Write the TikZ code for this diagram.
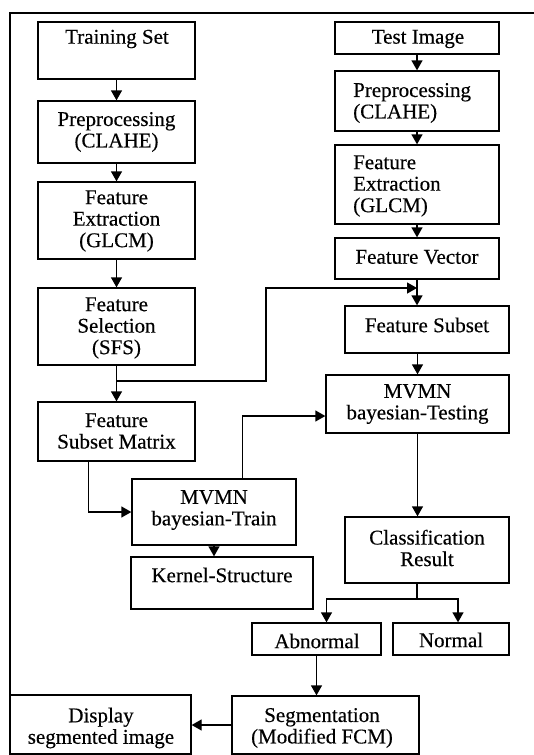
\documentclass[tikz,border=0pt]{standalone}
\usepackage{fontspec}
\setmainfont{Liberation Serif}[FakeBold=0.35]
\usetikzlibrary{arrows.meta,fit}
\tikzset{
  box/.style={draw, line width=1.3pt, inner sep=0pt},
  txt/.style={inner sep=0pt, align=center, font=\fontsize{21}{21.5}\selectfont},
  ltxt/.style={txt, anchor=west, align=left},
  conn/.style={line width=1.3pt},
  arr/.style={conn, -{Triangle[width=11pt,length=10pt]}},
  frame/.style={line width=2.2pt}
}
\begin{document}
\begin{tikzpicture}[x=1pt,y=-1pt]
\useasboundingbox (0,0) rectangle (534,755);
\draw[frame] (10,756) -- (10,13) -- (535,13);
% left column
\node[box, fit={(38,22) (195,79)}] (ts) {};
\node[box, fit={(38,101) (195,163)}] (pp1) {};
\node[box, fit={(38,182) (195,259)}] (fe1) {};
\node[box, fit={(38,288) (195,365)}] (fs) {};
\node[box, fit={(38,402) (195,461)}] (fsm) {};
\node[box, fit={(132,479) (296,545)}] (mt) {};
\node[box, fit={(131,557) (313,609)}] (kern) {};
% right column
\node[box, fit={(335,22) (499,54)}] (ti) {};
\node[box, fit={(335,71) (499,131)}] (pp2) {};
\node[box, fit={(335,145) (499,224)}] (fe2) {};
\node[box, fit={(335,238) (499,279)}] (fv) {};
\node[box, fit={(345,306) (509,353)}] (fsub) {};
\node[box, fit={(326,375) (509,433)}] (mtest) {};
\node[box, fit={(345,517) (509,583)}] (cr) {};
\node[box, fit={(252,623) (381,655)}] (ab) {};
\node[box, fit={(393,623) (509,655)}] (nm) {};
\node[box, fit={(232,696) (419,754)}] (seg) {};
\node[box, fit={(10,695) (191,754)}] (disp) {};
% texts
\node[txt] (ts-t) at (117,39) {Training Set};
\node[txt] (pp1-t) at (116.5,132) {Preprocessing\\(CLAHE)};
\node[txt] (fe1-t) at (116.5,221) {Feature\\Extraction\\(GLCM)};
\node[txt] (fs-t) at (116.5,328) {Feature\\Selection\\(SFS)};
\node[txt] (fsm-t) at (116.5,431) {Feature\\Subset Matrix};
\node[txt] (mt-t) at (214,510) {MVMN\\bayesian-Train};
\node[txt] (kern-t) at (222,575) {Kernel-Structure};
\node[txt] (ti-t) at (418,39) {Test Image};
\node[ltxt] (pp2-t) at (353,103) {Preprocessing\\(CLAHE)};
\node[ltxt] (fe2-t) at (353,186) {Feature\\Extraction\\(GLCM)};
\node[txt] (fv-t) at (417,257) {Feature Vector};
\node[txt] (fsub-t) at (427,325) {Feature Subset};
\node[txt] (mtest-t) at (417.5,404) {MVMN\\bayesian-Testing};
\node[txt] (cr-t) at (427,548) {Classification\\Result};
\node[txt] (ab-t) at (317,641) {Abnormal};
\node[txt] (nm-t) at (451,640) {Normal};
\node[txt] (seg-t) at (322,728) {Segmentation\\(Modified FCM)};
\node[txt] (disp-t) at (101,728) {Display\\segmented image};
% coordinates
\coordinate (j1) at (116.5,381);
\coordinate (b1) at (266,288);
\coordinate (j2) at (417,288);
\coordinate (s1) at ([xshift=51pt]fsm.south west);
\coordinate (s2) at ([xshift=111pt]mt.north west);
\coordinate (e2) at ([yshift=-12pt]mtest.west);
\coordinate (j3) at (417,599);
% connectors left
\draw[arr] (ts) -- (pp1);
\draw[arr] (pp1) -- (fe1);
\draw[arr] (fe1) -- (fs);
\draw[arr] (fs) -- (fsm);
\draw[arr] (j1) -| (b1) -- (j2);
\draw[arr] (s1) |- (mt.west);
\draw[arr] (s2) |- (e2);
\draw[arr] (mt.south) -- (mt.south |- kern.north);
% connectors right
\draw[arr] (ti) -- (pp2);
\draw[arr] (pp2) -- (fe2);
\draw[arr] (fe2) -- (fv);
\draw[arr] (fv.south) -- (fv.south |- fsub.north);
\draw[arr] (fsub.south -| mtest.north) -- (mtest.north);
\draw[arr] (mtest.south) -- (mtest.south |- cr.north);
\draw[conn] (cr.south -| j3) -- (j3);
\draw[arr] (j3) -| ([xshift=10pt]ab.north);
\draw[arr] (j3) -| ([xshift=7pt]nm.north);
\draw[arr] (ab.south) -- (ab.south |- seg.north);
\draw[arr] (seg.west) -- (seg.west -| disp.east);
\end{tikzpicture}
\end{document}
